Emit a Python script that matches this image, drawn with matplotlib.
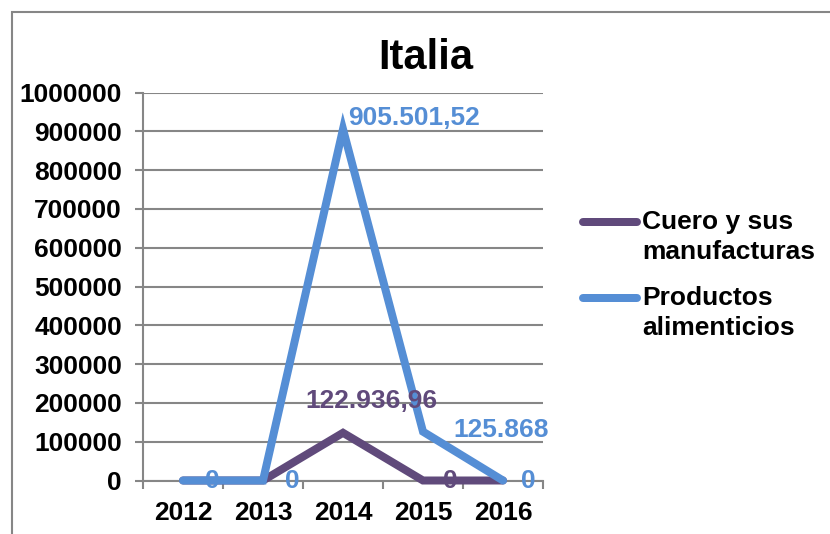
import matplotlib
matplotlib.use("Agg")
import matplotlib.pyplot as plt
from matplotlib.lines import Line2D
from matplotlib.patches import Rectangle
import numpy as np

plt.rcParams['font.family'] = ['Liberation Sans', 'DejaVu Sans']
plt.rcParams['font.weight'] = 'bold'

title = "Italia"
years = ["2012", "2013", "2014", "2015", "2016"]
series_names = ["Cuero y sus\nmanufacturas", "Productos\nalimenticios"]
cuero = [0, 0, 122936.96, 0, 0]
productos = [0, 0, 905501.52, 125868, 0]
cuero_labels = ["", "", "122.936,96", "0", ""]
productos_labels = ["0", "0", "905.501,52", "125.868", "0"]
yticks = [0, 100000, 200000, 300000, 400000, 500000, 600000, 700000, 800000, 900000, 1000000]

colors = ["#604A7B", "#558ED5"]
W, H = 830, 534
fig = plt.figure(figsize=(W / 100, H / 100), dpi=100)

def fx(px):
    return px / W

def fy(py):
    return 1 - py / H

ax = fig.add_axes([fx(143), fy(480.5), fx(543) - fx(143), fy(92.5) - fy(480.5)])
x = np.arange(len(years))
px2pt = 72 / 100

l1, = ax.plot(x, cuero, color=colors[0], lw=8 * px2pt, solid_capstyle='round',
              solid_joinstyle='miter', zorder=3, clip_on=False)
l2, = ax.plot(x, productos, color=colors[1], lw=8 * px2pt, solid_capstyle='round',
              solid_joinstyle='miter', zorder=4, clip_on=False)

ax.set_xlim(-0.5, len(years) - 0.5)
ax.set_ylim(0, 1000000)
ax.set_yticks(yticks)
ax.set_yticklabels([str(v) for v in yticks])
ax.set_xticks(x)
ax.set_xticklabels(years)
ax.set_xticks(np.arange(len(years) + 1) - 0.5, minor=True)

ax.grid(axis='y', color='#868686', lw=1.5, zorder=0)
ax.set_axisbelow(True)
for s in ['top', 'right']:
    ax.spines[s].set_visible(False)
for s in ['left', 'bottom']:
    ax.spines[s].set_color('#868686')
    ax.spines[s].set_linewidth(1.5)

fs = 19
ax.tick_params(axis='y', length=8 * px2pt, width=1.5, color='#868686', pad=13 * px2pt,
               labelsize=fs)
ax.tick_params(axis='x', which='major', length=0, pad=21 * px2pt, labelsize=fs)
ax.tick_params(axis='x', which='minor', length=8 * px2pt, width=1.5, color='#868686')
for lab in ax.get_xticklabels() + ax.get_yticklabels():
    lab.set_fontweight('bold')

# data labels (offsets in pixels)
cuero_off = [(0, 0, 'left'), (0, 0, 'left'), (28, 32, 'center'), (20, 0, 'left'), (0, 0, 'left')]
prod_off = [(22, 0, 'left'), (22, 0, 'left'), (5, 11, 'left'), (30, 2, 'left'), (18, 0, 'left')]
for i in range(len(years)):
    if cuero_labels[i]:
        dx, dy, ha = cuero_off[i]
        ax.annotate(cuero_labels[i], (x[i], cuero[i]), xytext=(dx * px2pt, dy * px2pt),
                    textcoords='offset points', ha=ha, va='center', fontsize=fs,
                    fontweight='bold', color=colors[0], zorder=6, annotation_clip=False)
    if productos_labels[i]:
        dx, dy, ha = prod_off[i]
        ax.annotate(productos_labels[i], (x[i], productos[i]), xytext=(dx * px2pt, dy * px2pt),
                    textcoords='offset points', ha=ha, va='center', fontsize=fs,
                    fontweight='bold', color=colors[1], zorder=6, annotation_clip=False)

# title
fig.text(fx(426), fy(58), title, ha='center', va='center', fontsize=30, fontweight='bold')

# legend
for i, (name, c, yy) in enumerate(zip(series_names, colors, [222, 298])):
    fig.add_artist(Line2D([fx(583), fx(637)], [fy(yy), fy(yy)], color=c, lw=8 * px2pt,
                          solid_capstyle='round'))
    fig.text(fx(642), fy(yy - 12), name, ha='left', va='top', fontsize=fs,
             fontweight='bold', linespacing=1.3)

# chart frame
fig.add_artist(Rectangle((fx(11.5), fy(560)), fx(900), fy(12) - fy(560),
                         fill=False, ec='#868686', lw=1.5, transform=fig.transFigure))

fig.savefig("out.png", dpi=100)
